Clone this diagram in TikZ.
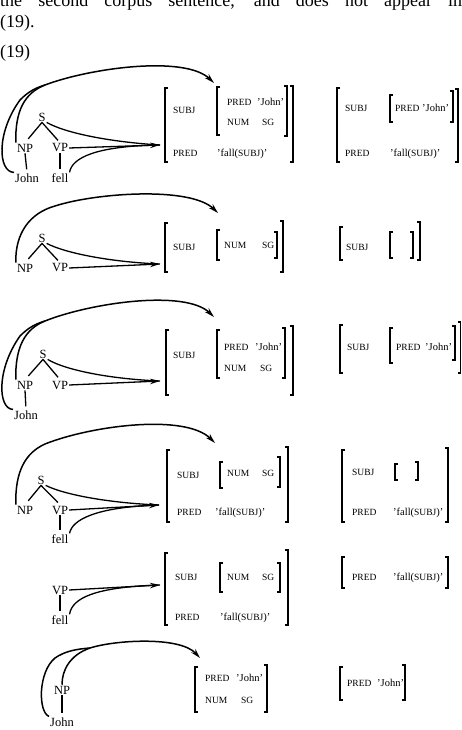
\documentclass[tikz,border=0pt]{standalone}
\usepackage{fontspec}
\setmainfont{Liberation Serif}
\usetikzlibrary{arrows.meta}
\newcommand\smc[1]{{\fontsize{9.5}{10}\selectfont #1}}
\newcommand\avmL[3]{\draw[brk] ({#1+3},#2) -- (#1,#2) -- (#1,#3) -- ({#1+3},#3);}
\newcommand\avmR[3]{\draw[brk] ({#1-3},#2) -- (#1,#2) -- (#1,#3) -- ({#1-3},#3);}
\begin{document}
\begin{tikzpicture}[x=1pt,y=-1pt,
  ft/.style={anchor=west, inner sep=0pt, text height=6.5pt, text depth=0pt, font=\fontsize{9.5}{10}\selectfont},
  vl/.style={anchor=west, inner sep=0pt, text height=6.5pt, text depth=0pt, font=\fontsize{10.5}{11}\selectfont},
  tr/.style={inner sep=1pt, font=\fontsize{12.5}{13}\selectfont},
  txt/.style={anchor=base west, inner sep=0pt, font=\fontsize{18}{20}\selectfont},
  brk/.style={line width=1.5pt},
  edge/.style={line width=1.3pt},
  arc/.style={line width=1.5pt},
  tip/.style={-{Stealth[length=10pt,width=5.5pt]}}]
\useasboundingbox (0,0) rectangle (462,730);

% header text
\node[txt] (hdr) at (0,7) {\makebox[462pt][s]{the second corpus sentence, and does not appear in}};
\node[txt] (ex1) at (0,28) {(19).};
\node[txt] (ex2) at (0,58) {(19)};

% ---------- Panel 1 ----------
\begin{scope}[shift={(0,148)}]
  \node[tr] (s1) at (42,-31) {S};
  \node[tr] (np1) at (25,0) {NP};
  \node[tr] (vp1) at (60,0) {VP};
  \node[tr] (jn1) at (27,30) {John};
  \node[tr] (fl1) at (60,30) {fell};
  \coordinate (t1) at (160,-3);
  \coordinate (m1) at (45,-63);
  \coordinate (A1) at (214,-65);
  \draw[edge,shorten >=5pt] (s1.south) -- (np1.north);
  \draw[edge,shorten >=3pt] (s1.south) -- (vp1.north);
  \draw[edge,shorten >=3pt] (np1.south) -- (jn1.north);
  \draw[edge,shorten >=3pt] (vp1.south) -- (fl1.north);
  \draw[edge,tip] (vp1.east) -- (t1);
  \draw[edge] (s1.south east) .. controls (65,-15) and (110,-6) .. (t1);
  \draw[edge] (fl1.north east) .. controls (72,10) and (95,-2) .. (t1);
  \draw[arc] (np1.north west) .. controls (15,-38) and (25,-55) .. (m1);
  \draw[arc] (jn1.north west) .. controls (-2,24) and (-4,-15) .. (20,-48) .. controls (28,-56) and (35,-60) .. (m1);
  \draw[arc,tip] (m1) .. controls (90,-80) and (185,-93) .. (A1);
\end{scope}
\avmL{165}{88}{162}
\node[ft] (a1s) at (173,110) {SUBJ};
\avmL{217}{87}{135}
\node[ft] (a1p) at (227,102) {PRED};
\node[vl] (a1j) at (257,102) {'John'};
\node[ft] (a1n) at (227,122) {NUM};
\node[ft] (a1g) at (262,122) {SG};
\avmR{287}{86}{136}
\avmR{293}{86}{162}
\node[ft] (a1q) at (173,153) {PRED};
\node[vl] (a1f) at (217,153) {'fall(\smc{SUBJ})'};
\avmL{337}{88}{162}
\node[ft] (b1s) at (345,108) {SUBJ};
\avmL{390}{95}{122}
\node[ft] (b1p) at (395,108) {PRED};
\node[vl] (b1j) at (422,108) {'John'};
\avmR{453}{91}{122}
\avmR{458}{89}{162}
\node[ft] (b1q) at (345,153) {PRED};
\node[vl] (b1f) at (390,153) {'fall(\smc{SUBJ})'};

% ---------- Panel 2 ----------
\begin{scope}[shift={(0,268)}]
  \node[tr] (s2) at (42,-30) {S};
  \node[tr] (np2) at (25,0) {NP};
  \node[tr] (vp2) at (60,0) {VP};
  \coordinate (t2) at (160,-4);
  \coordinate (m2) at (55,-62);
  \coordinate (A2) at (218,-55);
  \draw[edge,shorten >=5pt] (s2.south) -- (np2.north);
  \draw[edge,shorten >=3pt] (s2.south) -- (vp2.north);
  \draw[edge,tip] (vp2.east) -- (t2);
  \draw[edge] (s2.south east) .. controls (65,-15) and (110,-6) .. (t2);
  \draw[arc] (np2.north west) .. controls (15,-35) and (30,-55) .. (m2);
  \draw[arc,tip] (m2) .. controls (95,-75) and (190,-82) .. (A2);
\end{scope}
\avmL{165}{223}{272}
\node[ft] (a2s) at (173,247) {SUBJ};
\avmL{217}{230}{260}
\node[ft] (a2n) at (224,245) {NUM};
\node[ft] (a2g) at (262,245) {SG};
\avmR{277}{232}{258}
\avmR{283}{221}{272}
\avmL{340}{227}{260}
\node[ft] (b2s) at (346,247) {SUBJ};
\avmL{390}{232}{258}
\avmR{413}{232}{258}
\avmR{420}{222}{260}

% ---------- Panel 3 ----------
\begin{scope}[shift={(0,385)}]
  \node[tr] (s3) at (43,-31) {S};
  \node[tr] (np3) at (25,0) {NP};
  \node[tr] (vp3) at (60,0) {VP};
  \node[tr] (jn3) at (26,30) {John};
  \coordinate (t3) at (160,-4);
  \coordinate (m3) at (45,-64);
  \coordinate (A3) at (214,-68);
  \draw[edge,shorten >=5pt] (s3.south) -- (np3.north);
  \draw[edge,shorten >=3pt] (s3.south) -- (vp3.north);
  \draw[edge,shorten >=3pt] (np3.south) -- (jn3.north);
  \draw[edge,tip] (vp3.east) -- (t3);
  \draw[edge] (s3.south east) .. controls (65,-15) and (110,-6) .. (t3);
  \draw[arc] (np3.north west) .. controls (15,-38) and (25,-56) .. (m3);
  \draw[arc] (jn3.north west) .. controls (-2,24) and (-4,-15) .. (20,-49) .. controls (28,-57) and (35,-61) .. (m3);
  \draw[arc,tip] (m3) .. controls (90,-82) and (185,-96) .. (A3);
\end{scope}
\avmL{166}{330}{395}
\node[ft] (a3s) at (173,355) {SUBJ};
\avmL{217}{330}{378}
\node[ft] (a3p) at (224,347) {PRED};
\node[vl] (a3j) at (255,347) {'John'};
\node[ft] (a3n) at (224,368) {NUM};
\node[ft] (a3g) at (260,368) {SG};
\avmR{285}{328}{378}
\avmR{293}{326}{395}
\avmL{340}{325}{373}
\node[ft] (b3s) at (347,347) {SUBJ};
\avmL{390}{328}{363}
\node[ft] (b3p) at (396,347) {PRED};
\node[vl] (b3j) at (425,347) {'John'};
\avmR{455}{326}{360}
\avmR{460.5}{322}{373}

% ---------- Panel 4 ----------
\begin{scope}[shift={(0,510)}]
  \node[tr] (s4) at (41,-30) {S};
  \node[tr] (np4) at (25,0) {NP};
  \node[tr] (vp4) at (60,0) {VP};
  \node[tr] (fl4) at (60,29) {fell};
  \coordinate (t4) at (159,-5);
  \coordinate (m4) at (45,-66);
  \coordinate (A4) at (215,-67);
  \draw[edge,shorten >=5pt] (s4.south) -- (np4.north);
  \draw[edge,shorten >=3pt] (s4.south) -- (vp4.north);
  \draw[edge,shorten >=3pt] (vp4.south) -- (fl4.north);
  \draw[edge,tip] (vp4.east) -- (t4);
  \draw[edge] (s4.south east) .. controls (65,-15) and (110,-7) .. (t4);
  \draw[edge] (fl4.north east) .. controls (72,10) and (95,-3) .. (t4);
  \draw[arc] (np4.north west) .. controls (15,-38) and (25,-57) .. (m4);
  \draw[arc,tip] (m4) .. controls (90,-84) and (185,-97) .. (A4);
\end{scope}
\avmL{167}{450}{522}
\node[ft] (a4s) at (177,475) {SUBJ};
\avmL{220}{462}{488}
\node[ft] (a4n) at (227,473) {NUM};
\node[ft] (a4g) at (262,473) {SG};
\avmR{280}{457}{487}
\avmR{288}{447}{522}
\node[ft] (a4q) at (177,512) {PRED};
\node[vl] (a4f) at (215,512) {'fall(\smc{SUBJ})'};
\avmL{342}{450}{522}
\node[ft] (b4s) at (352,472) {SUBJ};
\avmL{395}{464}{480}
\avmR{418}{462}{480}
\avmR{448}{448}{522}
\node[ft] (b4q) at (352,512) {PRED};
\node[vl] (b4f) at (393,512) {'fall(\smc{SUBJ})'};

% ---------- Panel 5 ----------
\node[tr] (vp5) at (60,590) {VP};
\node[tr] (fl5) at (60,620) {fell};
\coordinate (t5) at (160,585);
\draw[edge,shorten >=3pt] (vp5.south) -- (fl5.north);
\draw[edge,tip] (vp5.east) -- (t5);
\draw[edge] (fl5.north east) .. controls (72,598) and (95,587) .. (t5);
\avmL{165}{553}{625}
\node[ft] (a5s) at (175,577) {SUBJ};
\avmL{220}{563}{592}
\node[ft] (a5n) at (227,577) {NUM};
\node[ft] (a5g) at (262,577) {SG};
\avmR{280}{563}{592}
\avmR{288}{550}{625}
\node[ft] (a5q) at (175,617) {PRED};
\node[vl] (a5f) at (220,617) {'fall(\smc{SUBJ})'};
\avmL{342}{557}{588}
\node[ft] (b5q) at (352,577) {PRED};
\node[vl] (b5f) at (393,577) {'fall(\smc{SUBJ})'};
\avmR{448}{557}{588}

% ---------- Panel 6 ----------
\node[tr] (np6) at (62,690) {NP};
\node[tr] (jn6) at (62,722) {John};
\coordinate (m6) at (90,648);
\coordinate (A6) at (200,658);
\draw[edge,shorten >=3pt] (np6.south) -- (jn6.north);
\draw[arc] (np6.north) .. controls (62,670) and (70,655) .. (m6);
\draw[arc] (jn6.north west) .. controls (38,712) and (38,672) .. (55,658) .. controls (65,651) and (77,649) .. (m6);
\draw[arc,tip] (m6) .. controls (115,640) and (180,636) .. (A6);
\avmL{195}{667}{712}
\node[ft] (a6p) at (205,678) {PRED};
\node[vl] (a6j) at (236,678) {'John'};
\node[ft] (a6n) at (205,700) {NUM};
\node[ft] (a6g) at (241,700) {SG};
\avmR{267}{665}{712}
\avmL{340}{667}{700}
\node[ft] (b6p) at (347,683) {PRED};
\node[vl] (b6j) at (377,683) {'John'};
\avmR{405}{665}{700}
\end{tikzpicture}
\end{document}
